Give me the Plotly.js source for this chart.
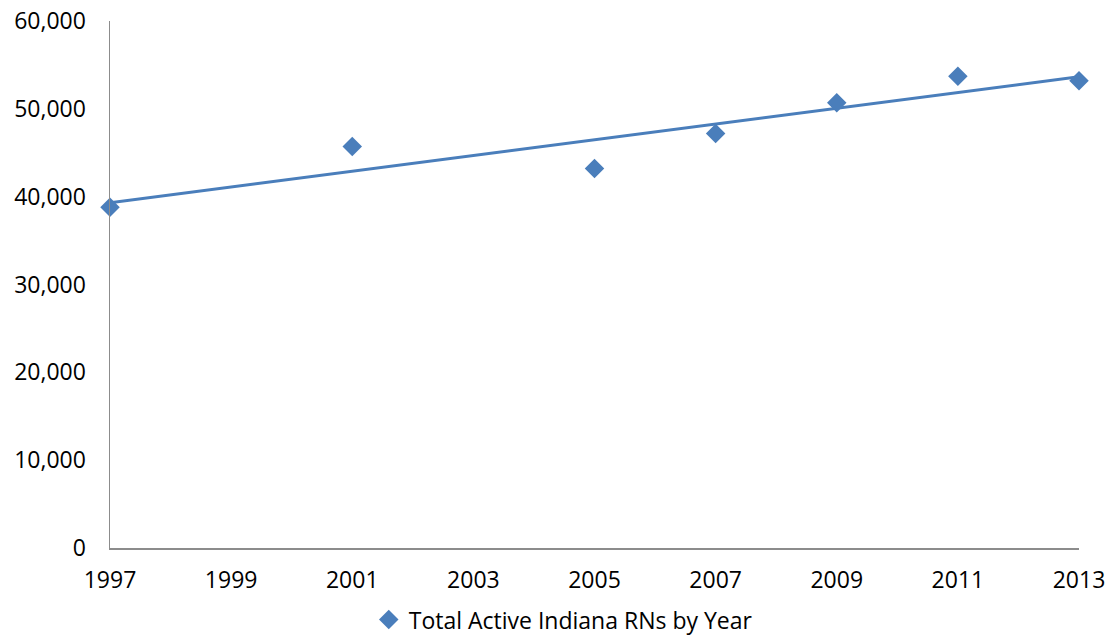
<!DOCTYPE html>
<html>
<head>
<meta charset="utf-8">
<script src="https://cdn.plot.ly/plotly-3.0.1.min.js"></script>
<style>html,body{margin:0;padding:0;background:#fff;}#chart{width:1111px;height:635px;}</style>
</head>
<body>
<div id="chart"></div>
<script>
const years = [1997, 2001, 2005, 2007, 2009, 2011, 2013];
const activeRNs = [38800, 45700, 43200, 47200, 50700, 53700, 53200];
const trendYears = [1997, 2013];
const trendValues = [39300, 53650];
const xTicks = [1997, 1999, 2001, 2003, 2005, 2007, 2009, 2011, 2013];
const yTicks = [0, 10000, 20000, 30000, 40000, 50000, 60000];
const seriesName = 'Total Active Indiana RNs by Year';

const blue = '#4a7ebb';
const fontFam = '"Open Sans", Lato, sans-serif';

const traces = [
  {
    x: trendYears, y: trendValues, type: 'scatter', mode: 'lines',
    line: {color: blue, width: 3}, showlegend: false, hoverinfo: 'skip', cliponaxis: false
  },
  {
    x: years, y: activeRNs, type: 'scatter', mode: 'markers', name: seriesName,
    marker: {symbol: 'diamond', size: 15, color: blue}, cliponaxis: false
  }
];

const layout = {
  width: 1111, height: 635,
  margin: {l: 110, r: 32, t: 21, b: 87, autoexpand: false},
  paper_bgcolor: '#fff', plot_bgcolor: '#fff',
  font: {family: fontFam, size: 23, color: '#000'},
  xaxis: {
    range: [1997, 2013], tickvals: xTicks, ticktext: xTicks.map(String),
    showgrid: false, zeroline: false, showline: true, linecolor: '#8c8c8c', linewidth: 1.5,
    ticks: '', ticklabelstandoff: 11, tickfont: {family: fontFam, size: 23, color: '#000'}
  },
  yaxis: {
    range: [0, 60000], tickvals: yTicks, ticktext: yTicks.map(v => v.toLocaleString('en-US')),
    showgrid: false, zeroline: false, showline: true, linecolor: '#8c8c8c', linewidth: 1.5,
    ticks: '', ticklabelstandoff: 18, tickfont: {family: fontFam, size: 23, color: '#000'}
  },
  showlegend: true,
  legend: {
    orientation: 'h', x: 0.267, xanchor: 'left', y: -0.136, yanchor: 'middle',
    itemwidth: 30,
    font: {family: fontFam, size: 23, color: '#000'}, bgcolor: 'rgba(0,0,0,0)'
  }
};

Plotly.newPlot('chart', traces, layout, {displayModeBar: false, staticPlot: true});
</script>
</body>
</html>
